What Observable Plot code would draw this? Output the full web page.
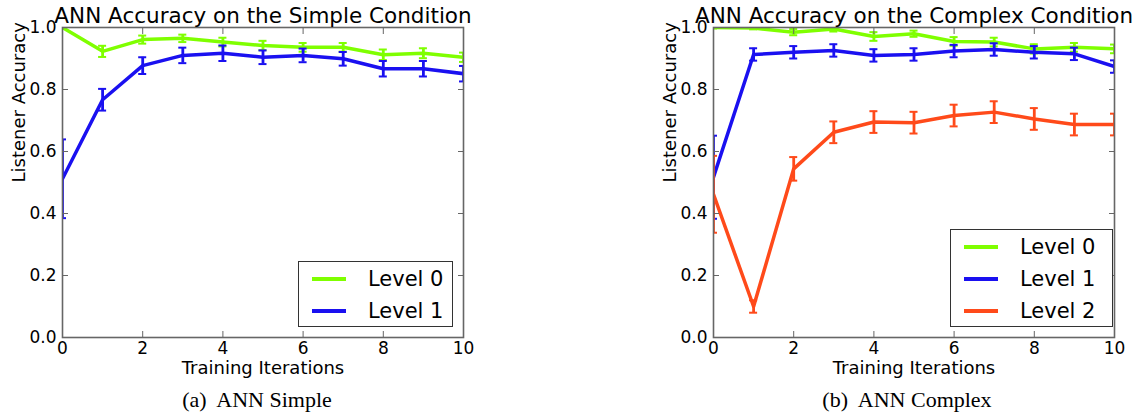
<!DOCTYPE html>
<html>
<head>
<meta charset="utf-8">
<script src="https://cdn.jsdelivr.net/npm/d3@7"></script>
<script src="https://cdn.jsdelivr.net/npm/@observablehq/plot@0.6"></script>
<style>
  html, body { margin: 0; padding: 0; background: #fff; }
  #root { position: relative; width: 1140px; height: 417px; background: #fff; font-family: "DejaVu Sans", sans-serif; overflow: hidden; }
  .panel { position: absolute; top: 0; width: 490px; height: 380px; }
  .panel svg { position: absolute; left: 0; top: 0; }
  .legend { position: absolute; border: 1.3px solid #333; background: #fff; box-sizing: border-box; }
  .legend .row { position: absolute; left: 0; height: 0; }
  .legend .sw { position: absolute; left: 13px; width: 34px; height: 4px; top: -2px; }
  .legend .lab { position: absolute; left: 69px; top: -13px; font-size: 21px; line-height: 26px; white-space: nowrap; color: #000; }
  .caption { position: absolute; top: 389px; width: 300px; text-align: center; font-family: "Liberation Serif", "Times New Roman", serif; font-size: 22px; line-height: 1; color: #000; white-space: pre; }
</style>
</head>
<body>
<div id="root"></div>
<script>
// ---- data ----
const iterations = [0, 1, 2, 3, 4, 5, 6, 7, 8, 9, 10];
const levelNames = ["Level 0", "Level 1", "Level 2"];
const levelColors = ["#7fff00", "#1a10f0", "#ff4a1a"];

const simpleL0    = [1.000, 0.923, 0.961, 0.965, 0.953, 0.942, 0.936, 0.936, 0.912, 0.917, 0.904];
const simpleL0Err = [0.004, 0.018, 0.013, 0.012, 0.014, 0.015, 0.014, 0.014, 0.017, 0.016, 0.015];
const simpleL1    = [0.512, 0.767, 0.877, 0.910, 0.917, 0.904, 0.910, 0.899, 0.867, 0.867, 0.851];
const simpleL1Err = [0.127, 0.035, 0.027, 0.025, 0.025, 0.022, 0.022, 0.022, 0.025, 0.025, 0.025];

const complexL0    = [1.000, 0.998, 0.985, 0.995, 0.971, 0.980, 0.955, 0.953, 0.931, 0.936, 0.931];
const complexL0Err = [0.003, 0.004, 0.010, 0.008, 0.014, 0.010, 0.014, 0.014, 0.015, 0.014, 0.014];
const complexL1    = [0.517, 0.913, 0.920, 0.926, 0.910, 0.913, 0.924, 0.929, 0.920, 0.915, 0.874];
const complexL1Err = [0.134, 0.020, 0.020, 0.020, 0.020, 0.020, 0.020, 0.020, 0.020, 0.020, 0.020];
const complexL2    = [0.462, 0.100, 0.544, 0.662, 0.695, 0.693, 0.716, 0.727, 0.705, 0.687, 0.687];
const complexL2Err = [0.124, 0.020, 0.038, 0.035, 0.035, 0.035, 0.035, 0.035, 0.035, 0.035, 0.035];

const xTicks = [0, 2, 4, 6, 8, 10];
const yTicks = [0.0, 0.2, 0.4, 0.6, 0.8, 1.0];

const titles = ["ANN Accuracy on the Simple Condition", "ANN Accuracy on the Complex Condition"];
const captions = ["(a)  ANN Simple", "(b)  ANN Complex"];
const xLabel = "Training Iterations";
const yLabel = "Listener Accuracy";

const panels = [
  {title: titles[0], caption: captions[0], left: 0, captionCenter: 257,
   legend: {left: 298, top: 261, width: 155, height: 66},
   series: [[simpleL0, simpleL0Err], [simpleL1, simpleL1Err]]},
  {title: titles[1], caption: captions[1], left: 651, captionCenter: 256,
   legend: {left: 299, top: 229, width: 163, height: 98},
   series: [[complexL0, complexL0Err], [complexL1, complexL1Err], [complexL2, complexL2Err]]}
];

const root = document.getElementById("root");
const axisColor = "#666";

for (const p of panels) {
  const marks = [];
  p.series.forEach(([vals, errs], si) => {
    const color = levelColors[si];
    const data = iterations.map((x, i) => ({x, y: vals[i], lo: vals[i] - errs[i], hi: vals[i] + errs[i]}));
    marks.push(Plot.line(data, {x: "x", y: "y", stroke: color, strokeWidth: 3.5, strokeLinejoin: "round", clip: true}));
    marks.push(Plot.ruleX(data, {x: "x", y1: "lo", y2: "hi", stroke: color, strokeWidth: 2.8, clip: true}));
    marks.push(Plot.ruleY(data, {y: "lo", x1: d => d.x - 0.1, x2: d => d.x + 0.1, stroke: color, strokeWidth: 2, clip: true}));
    marks.push(Plot.ruleY(data, {y: "hi", x1: d => d.x - 0.1, x2: d => d.x + 0.1, stroke: color, strokeWidth: 2, clip: true}));
  });

  const chart = Plot.plot({
    width: 490,
    height: 380,
    marginLeft: 62,
    marginRight: 27,
    marginTop: 27,
    marginBottom: 43,
    style: {fontFamily: "DejaVu Sans", fontSize: "17px", color: "#000", background: "transparent", overflow: "visible"},
    x: {domain: [0, 10]},
    y: {domain: [0, 1]},
    marks: [
      ...marks,
      Plot.axisY({anchor: "left", ticks: yTicks, tickFormat: d3.format(".1f"), tickSize: -6, tickPadding: 12, stroke: axisColor, fontSize: 17, label: null}),
      Plot.axisY({anchor: "right", ticks: yTicks, tickFormat: () => "", tickSize: -6, stroke: axisColor, label: null}),
      Plot.axisX({anchor: "bottom", ticks: xTicks, tickFormat: d3.format("d"), tickSize: -6, tickPadding: 10, stroke: axisColor, fontSize: 17, label: null}),
      Plot.axisX({anchor: "top", ticks: xTicks, tickFormat: () => "", tickSize: -6, stroke: axisColor, label: null}),
      Plot.frame({stroke: axisColor, strokeWidth: 1.6}),
      Plot.text([p.title], {text: d => d, frameAnchor: "top", lineAnchor: "middle", dy: -11.5, fontSize: 21.5, fill: "#000"}),
      Plot.text([xLabel], {text: d => d, frameAnchor: "bottom", lineAnchor: "middle", dy: 31, fontSize: 18, fill: "#000"}),
      Plot.text([yLabel], {text: d => d, frameAnchor: "left", lineAnchor: "middle", rotate: -90, dx: -43, fontSize: 18, fill: "#000"})
    ]
  });

  const div = document.createElement("div");
  div.className = "panel";
  div.style.left = p.left + "px";
  div.appendChild(chart);

  // legend
  const lg = document.createElement("div");
  lg.className = "legend";
  Object.assign(lg.style, {left: p.legend.left + "px", top: p.legend.top + "px", width: p.legend.width + "px", height: p.legend.height + "px"});
  p.series.forEach((s, si) => {
    const row = document.createElement("div");
    row.className = "row";
    row.style.top = (17 + 32 * si) + "px";
    const sw = document.createElement("div");
    sw.className = "sw";
    sw.style.background = levelColors[si];
    const lab = document.createElement("div");
    lab.className = "lab";
    lab.textContent = levelNames[si];
    row.appendChild(sw);
    row.appendChild(lab);
    lg.appendChild(row);
  });
  div.appendChild(lg);
  root.appendChild(div);

  const cap = document.createElement("div");
  cap.className = "caption";
  cap.style.left = (p.left + p.captionCenter - 150) + "px";
  cap.textContent = p.caption;
  root.appendChild(cap);
}
</script>
</body>
</html>
